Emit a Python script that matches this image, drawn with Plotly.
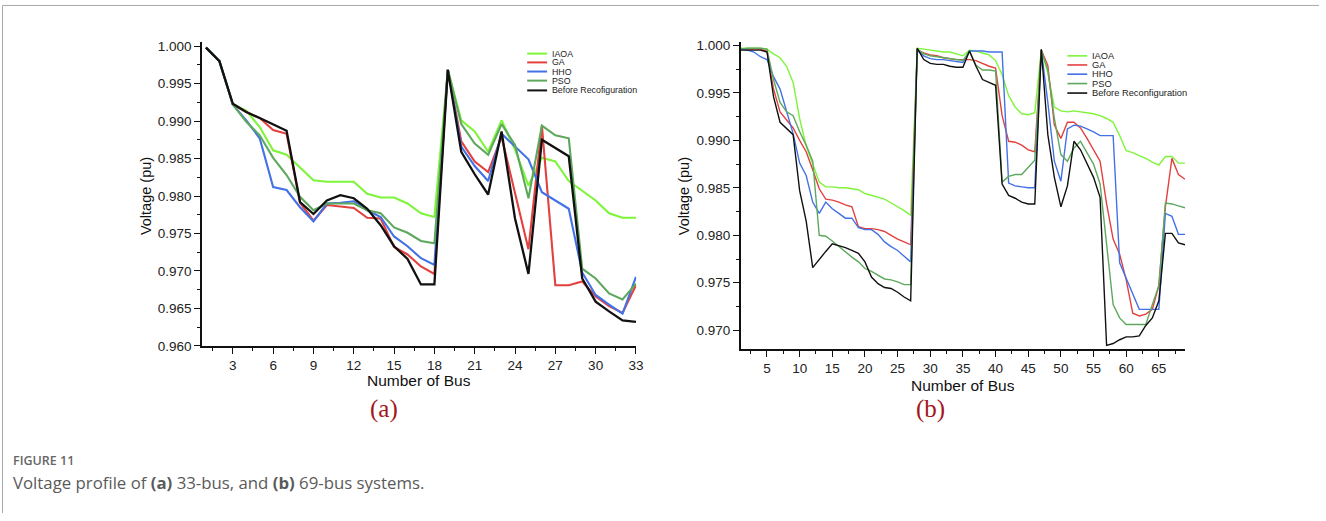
import plotly.graph_objects as go

# ---------------- data ----------------
BUS_33 = list(range(1, 34))
IAOA_33 = [0.9998, 0.9980, 0.9922, 0.9914, 0.9892, 0.9861, 0.9855, 0.9838, 0.9821, 0.9819,
           0.9819, 0.9819, 0.9803, 0.9798, 0.9798, 0.9790, 0.9777, 0.9772, 0.9968, 0.9901,
           0.9886, 0.9859, 0.9901, 0.9862, 0.9814, 0.9851, 0.9846, 0.9820, 0.9807, 0.9794,
           0.9777, 0.9771, 0.9771]
GA_33 = [0.9998, 0.9980, 0.9922, 0.9912, 0.9904, 0.9888, 0.9883, 0.9791, 0.9767, 0.9788,
         0.9786, 0.9784, 0.9771, 0.9770, 0.9732, 0.9722, 0.9706, 0.9696, 0.9969, 0.9873,
         0.9846, 0.9832, 0.9879, 0.9805, 0.9729, 0.9894, 0.9681, 0.9681, 0.9686, 0.9666,
         0.9653, 0.9644, 0.9681]
HHO_33 = [0.9998, 0.9980, 0.9922, 0.9901, 0.9877, 0.9812, 0.9808, 0.9785, 0.9766, 0.9790,
          0.9791, 0.9793, 0.9781, 0.9772, 0.9746, 0.9733, 0.9717, 0.9708, 0.9969, 0.9866,
          0.9840, 0.9820, 0.9883, 0.9866, 0.9849, 0.9805, 0.9794, 0.9783, 0.9698, 0.9668,
          0.9655, 0.9643, 0.9692]
PSO_33 = [0.9998, 0.9980, 0.9922, 0.9899, 0.9881, 0.9851, 0.9828, 0.9799, 0.9781, 0.9790,
          0.9790, 0.9790, 0.9781, 0.9777, 0.9758, 0.9751, 0.9740, 0.9737, 0.9969, 0.9896,
          0.9870, 0.9855, 0.9896, 0.9868, 0.9797, 0.9894, 0.9881, 0.9877, 0.9703, 0.9690,
          0.9670, 0.9662, 0.9683]
BEFORE_33 = [0.9998, 0.9980, 0.9923, 0.9912, 0.9904, 0.9896, 0.9887, 0.9792, 0.9776, 0.9794,
             0.9801, 0.9797, 0.9783, 0.9761, 0.9733, 0.9716, 0.9682, 0.9682, 0.9968, 0.9859,
             0.9829, 0.9802, 0.9886, 0.9770, 0.9696, 0.9875, 0.9864, 0.9853, 0.9690, 0.9659,
             0.9646, 0.9634, 0.9632]

BUS_69 = list(range(1, 70))
IAOA_69 = [0.9997, 0.9997, 0.9997, 0.9997, 0.9996, 0.9991, 0.9987, 0.9978, 0.9961, 0.9923,
           0.9894, 0.9876, 0.9856, 0.9851, 0.9851, 0.9850, 0.9850, 0.9849, 0.9848, 0.9844,
           0.9842, 0.9840, 0.9838, 0.9834, 0.9830, 0.9826, 0.9821, 0.9997, 0.9996, 0.9995,
           0.9994, 0.9993, 0.9993, 0.9991, 0.9989, 0.9995, 0.9994, 0.9992, 0.9990, 0.9984,
           0.9969, 0.9947, 0.9935, 0.9928, 0.9927, 0.9929, 0.9995, 0.9971, 0.9935, 0.9931,
           0.9930, 0.9931, 0.9930, 0.9929, 0.9928, 0.9926, 0.9923, 0.9919, 0.9905, 0.9889,
           0.9887, 0.9884, 0.9881, 0.9877, 0.9874, 0.9883, 0.9883, 0.9876, 0.9876]
GA_69 = [0.9996, 0.9996, 0.9996, 0.9996, 0.9994, 0.9954, 0.9930, 0.9922, 0.9913, 0.9900,
         0.9888, 0.9869, 0.9849, 0.9838, 0.9837, 0.9835, 0.9832, 0.9830, 0.9809, 0.9807,
         0.9807, 0.9806, 0.9804, 0.9800, 0.9796, 0.9793, 0.9790, 0.9995, 0.9992, 0.9990,
         0.9989, 0.9987, 0.9986, 0.9985, 0.9985, 0.9985, 0.9984, 0.9981, 0.9978, 0.9976,
         0.9926, 0.9899, 0.9898, 0.9895, 0.9890, 0.9888, 0.9995, 0.9979, 0.9916, 0.9902,
         0.9919, 0.9919, 0.9913, 0.9902, 0.9890, 0.9878, 0.9833, 0.9796, 0.9780, 0.9753,
         0.9718, 0.9715, 0.9717, 0.9722, 0.9747, 0.9830, 0.9881, 0.9864, 0.9859]
HHO_69 = [0.9996, 0.9995, 0.9993, 0.9988, 0.9985, 0.9967, 0.9954, 0.9930, 0.9907, 0.9876,
          0.9863, 0.9835, 0.9823, 0.9835, 0.9828, 0.9823, 0.9818, 0.9818, 0.9808, 0.9806,
          0.9806, 0.9801, 0.9793, 0.9788, 0.9784, 0.9778, 0.9772, 0.9995, 0.9989, 0.9986,
          0.9985, 0.9985, 0.9984, 0.9983, 0.9982, 0.9994, 0.9994, 0.9994, 0.9993, 0.9993,
          0.9993, 0.9855, 0.9852, 0.9851, 0.9850, 0.9850, 0.9995, 0.9940, 0.9878, 0.9857,
          0.9912, 0.9916, 0.9915, 0.9912, 0.9909, 0.9905, 0.9905, 0.9905, 0.9771, 0.9754,
          0.9737, 0.9722, 0.9722, 0.9722, 0.9722, 0.9823, 0.9820, 0.9801, 0.9801]
PSO_69 = [0.9996, 0.9997, 0.9997, 0.9997, 0.9996, 0.9964, 0.9940, 0.9930, 0.9926, 0.9909,
          0.9895, 0.9878, 0.9800, 0.9799, 0.9794, 0.9788, 0.9782, 0.9777, 0.9772, 0.9765,
          0.9762, 0.9758, 0.9754, 0.9753, 0.9751, 0.9748, 0.9748, 0.9996, 0.9991, 0.9989,
          0.9988, 0.9987, 0.9986, 0.9985, 0.9984, 0.9994, 0.9979, 0.9974, 0.9974, 0.9973,
          0.9856, 0.9862, 0.9864, 0.9864, 0.9871, 0.9879, 0.9995, 0.9974, 0.9923, 0.9885,
          0.9878, 0.9892, 0.9899, 0.9887, 0.9875, 0.9854, 0.9789, 0.9727, 0.9713, 0.9706,
          0.9706, 0.9706, 0.9706, 0.9727, 0.9747, 0.9834, 0.9833, 0.9831, 0.9829]
BEFORE_69 = [0.9995, 0.9995, 0.9995, 0.9995, 0.9993, 0.9946, 0.9919, 0.9912, 0.9906, 0.9847,
             0.9815, 0.9766, 0.9775, 0.9783, 0.9791, 0.9789, 0.9787, 0.9784, 0.9781, 0.9772,
             0.9756, 0.9749, 0.9745, 0.9744, 0.9740, 0.9735, 0.9731, 0.9997, 0.9985, 0.9981,
             0.9980, 0.9980, 0.9978, 0.9977, 0.9977, 0.9994, 0.9978, 0.9964, 0.9961, 0.9958,
             0.9854, 0.9842, 0.9839, 0.9835, 0.9833, 0.9833, 0.9996, 0.9906, 0.9861, 0.9830,
             0.9852, 0.9899, 0.9890, 0.9876, 0.9861, 0.9840, 0.9684, 0.9686, 0.9690, 0.9693,
             0.9693, 0.9694, 0.9705, 0.9713, 0.9731, 0.9802, 0.9802, 0.9792, 0.9790]

NAMES = ["IAOA", "GA", "HHO", "PSO"]
BEFORE_NAME_A = "Before Recofiguration"
BEFORE_NAME_B = "Before Reconfiguration"
X_TICKS_A = list(range(3, 34, 3))
X_TICKS_B = list(range(5, 70, 5))
Y_TICKS_A = [0.960, 0.965, 0.970, 0.975, 0.980, 0.985, 0.990, 0.995, 1.000]
Y_TICKS_B = [0.970, 0.975, 0.980, 0.985, 0.990, 0.995, 1.000]

# ---------------- style ----------------
W, H = 1326, 521
COLORS = ["#7ef53a", "#e3413f", "#4272e6", "#5ea85e", "#111111"]
FONT = "Liberation Sans, Arial, sans-serif"


def px(x):
    return x / W


def py(y):
    return 1 - y / H


fig = go.Figure()

series_a = [IAOA_33, GA_33, HHO_33, PSO_33, BEFORE_33]
series_b = [IAOA_69, GA_69, HHO_69, PSO_69, BEFORE_69]
names_a = NAMES + [BEFORE_NAME_A]
names_b = NAMES + [BEFORE_NAME_B]

for ys, nm, c in zip(series_a, names_a, COLORS):
    fig.add_trace(go.Scatter(x=BUS_33, y=ys, name=nm, mode="lines",
                             line=dict(color=c, width=2.3 if c == "#111111" else 2.1),
                             xaxis="x", yaxis="y", showlegend=False))
for ys, nm, c in zip(series_b, names_b, COLORS):
    fig.add_trace(go.Scatter(x=BUS_69, y=ys, name=nm, mode="lines",
                             line=dict(color=c, width=1.4),
                             xaxis="x2", yaxis="y2", showlegend=False))

axis_common = dict(showline=True, linecolor="#111", linewidth=1.6, ticks="outside",
                   ticklen=6, tickwidth=1.4, tickcolor="#111", showgrid=False,
                   zeroline=False, tickfont=dict(family=FONT, size=13.5, color="#222"))

fig.update_layout(
    width=W, height=H, margin=dict(l=0, r=0, t=0, b=0),
    paper_bgcolor="white", plot_bgcolor="white",
    xaxis=dict(domain=[px(203), px(639.6)], range=[0.7, 33.02], tickvals=X_TICKS_A,
               minor=dict(dtick=1.5, tick0=0, ticks="outside", ticklen=3, tickcolor="#111"),
               anchor="y", **axis_common),
    yaxis=dict(domain=[py(350.3), py(40.2)], range=[0.96, 1.0005], tickvals=Y_TICKS_A,
               tickformat=".3f",
               minor=dict(dtick=0.0025, tick0=0.96, ticks="outside", ticklen=3, tickcolor="#111"),
               anchor="x", **axis_common),
    xaxis2=dict(domain=[px(744.8), px(1191.6)], range=[1, 69.05], tickvals=X_TICKS_B,
                minor=dict(dtick=2.5, tick0=0, ticks="outside", ticklen=3, tickcolor="#111"),
                anchor="y2", **axis_common),
    yaxis2=dict(domain=[py(353.7), py(39.4)], range=[0.968, 1.0004], tickvals=Y_TICKS_B,
                tickformat=".3f",
                minor=dict(dtick=0.0025, tick0=0.96, ticks="outside", ticklen=3, tickcolor="#111"),
                anchor="x2", **axis_common),
)

ann = []
shapes = []

# axis titles
ann.append(dict(text="Voltage (pu)", x=px(147), y=py(197), textangle=-90,
                font=dict(family=FONT, size=14.5, color="#111")))
ann.append(dict(text="Voltage (pu)", x=px(687), y=py(197), textangle=-90,
                font=dict(family=FONT, size=14.5, color="#111")))
ann.append(dict(text="Number of Bus", x=px(421), y=py(386),
                font=dict(family=FONT, size=15.5, color="#111")))
ann.append(dict(text="Number of Bus", x=px(968), y=py(391),
                font=dict(family=FONT, size=15.5, color="#111")))
# panel labels
ann.append(dict(text="(a)", x=px(386), y=py(415),
                font=dict(family="Liberation Serif, Times New Roman, serif", size=25, color="#a3161c")))
ann.append(dict(text="(b)", x=px(935), y=py(415),
                font=dict(family="Liberation Serif, Times New Roman, serif", size=25, color="#a3161c")))
# caption
ann.append(dict(text="FIGURE 11", x=px(11), y=py(467), xanchor="left",
                font=dict(family="Open Sans, sans-serif", size=12.5, color="#666", weight=600)))
ann.append(dict(text="Voltage profile of <b>(a)</b> 33-bus, and <b>(b)</b> 69-bus systems.",
                x=px(11), y=py(490), xanchor="left",
                font=dict(family="Open Sans, sans-serif", size=16.8, color="#5a5a5a")))

# legends (manual, compact)
rows_a = [51.7, 60.7, 70.0, 79.3, 89.3]
for nm, c, yy in zip(names_a, COLORS, rows_a):
    shapes.append(dict(type="line", xref="paper", yref="paper", x0=px(530), x1=px(550),
                       y0=py(yy), y1=py(yy), line=dict(color=c, width=2)))
    ann.append(dict(text=nm, x=px(553), y=py(yy), xanchor="left",
                    font=dict(family=FONT, size=8.8, color="#222")))
rows_b = [54.0, 63.3, 72.7, 82.3, 92.0]
for nm, c, yy in zip(names_b, COLORS, rows_b):
    shapes.append(dict(type="line", xref="paper", yref="paper", x0=px(1073), x1=px(1093),
                       y0=py(yy), y1=py(yy), line=dict(color=c, width=1.6)))
    ann.append(dict(text=nm, x=px(1096), y=py(yy), xanchor="left",
                    font=dict(family=FONT, size=9.3, color="#222")))

for a in ann:
    a.update(xref="paper", yref="paper", showarrow=False)
    a.setdefault("xanchor", "center")
    a.setdefault("yanchor", "middle")

# page frame (left and top border)
shapes.append(dict(type="line", xref="paper", yref="paper", x0=px(2.5), x1=px(2.5),
                   y0=0, y1=py(2.5), line=dict(color="#a8a8a8", width=1)))
shapes.append(dict(type="line", xref="paper", yref="paper", x0=px(2.5), x1=1,
                   y0=py(2.5), y1=py(2.5), line=dict(color="#a8a8a8", width=1)))

fig.update_layout(annotations=ann, shapes=shapes)
fig.write_html("out.html")
